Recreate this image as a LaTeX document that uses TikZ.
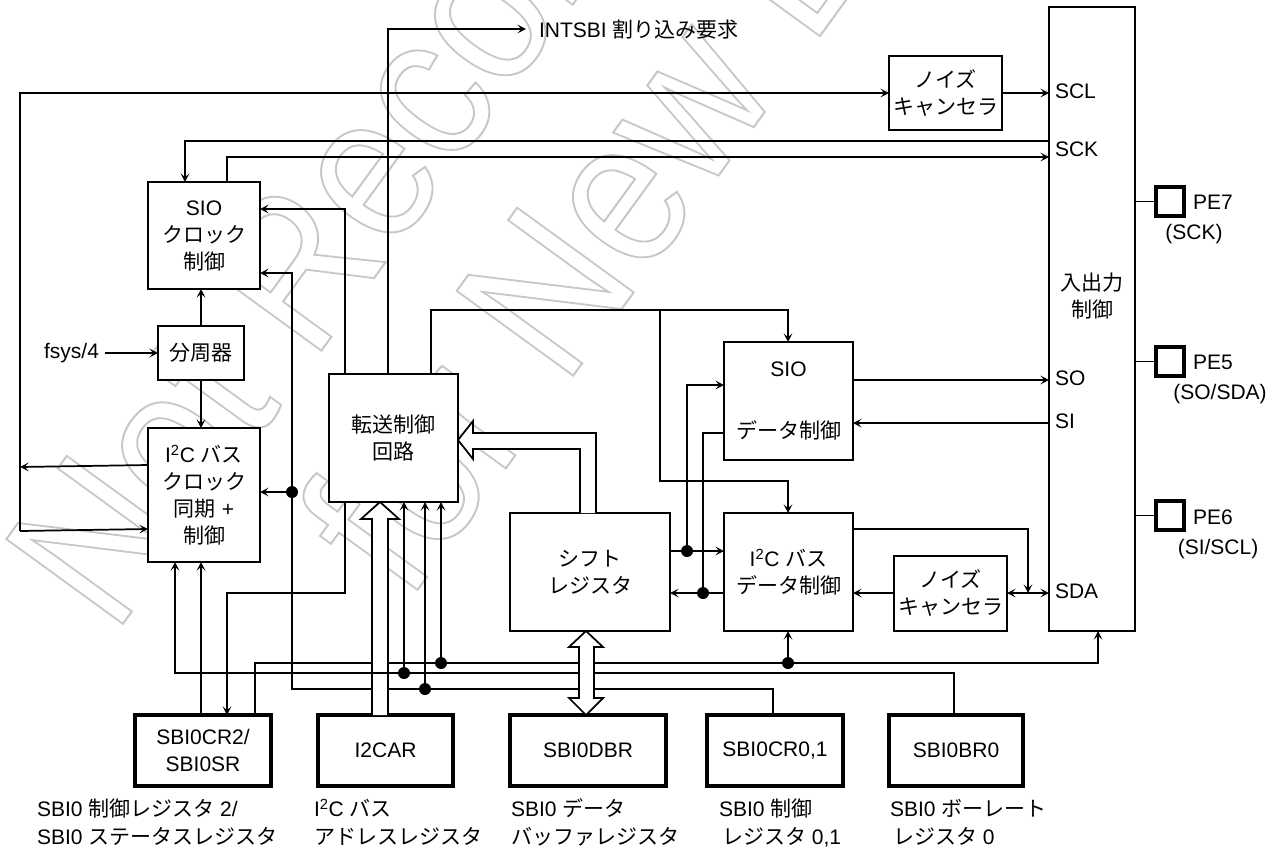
\documentclass[tikz,border=0pt]{standalone}
\usepackage{fontspec}
\setmainfont{Liberation Sans}
\newfontfamily\cjk{Noto Sans CJK JP}
\usetikzlibrary{arrows.meta,calc}
\newcommand\J[1]{{\cjk #1}}
\newcommand\IIC{I\textsuperscript{2}C}
\newcommand\bx[7]{\node[#2, minimum width={(#5-#3)*0.75pt}, minimum height={(#6-#4)*0.75pt}] (#1) at ({(#3+#5)/2},{(#4+#6)/2}) {#7};}
\newcommand\wmtext[1]{\special{pdf:code q 1 Tr 1.5 w 0.78 0.78 0.78 RG}#1\special{pdf:code Q}}
\tikzset{
  x=0.75pt,y=-0.75pt,
  every node/.style={font=\fontsize{15.75}{20.25}\selectfont,inner sep=0pt,outer sep=0pt},
  ln/.style={line width=1.3pt,line join=miter},
  arr/.style={ln,-{Stealth[inset=3pt,length=6.5pt,width=6.5pt,line width=0.9pt,open]}},
  arrs/.style={ln,{Stealth[inset=3pt,length=6.5pt,width=6.5pt,line width=0.9pt,open]}-{Stealth[inset=3pt,length=6.5pt,width=6.5pt,line width=0.9pt,open]}},
  blk/.style={draw,fill=white,line width=1.3pt,align=center},
  reg/.style={draw,fill=white,line width=2.8pt,align=center},
  pin/.style={draw,fill=white,line width=2.8pt},
  lab/.style={anchor=west},
  capt/.style={anchor=base west},
  dot/.style={circle,fill=black,minimum size=9pt},
  hol/.style={draw,fill=white,line width=1.3pt,line join=miter},
  wm/.style={font=\fontsize{157}{157}\selectfont,anchor=base west}
}
\begin{document}
\begin{tikzpicture}
\useasboundingbox (0,0) rectangle (1280,847);
\begin{scope}
\clip (0,0) rectangle (1280,847);
\node[wm,rotate=54,xscale=0.88] (wmone) at (114,636) {\wmtext{Not Recommended}};
\node[wm,rotate=54,xscale=0.88] (wmtwo) at (408,603) {\wmtext{for New Design}};
\end{scope}
% blocks
\bx{sioclk}{blk}{148}{182}{260}{289}{SIO\\\J{クロック}\\\J{制御}}
\bx{div}{blk}{158}{326}{244}{380}{\J{分周器}}
\bx{iicclk}{blk}{148}{428}{260}{562}{\IIC\ \J{バス}\\\J{クロック}\\\J{同期} +\\\J{制御}}
\bx{xfer}{blk}{329}{374}{458}{502}{\J{転送制御}\\\J{回路}}
\bx{shift}{blk}{510}{513}{670}{631}{\J{シフト}\\\J{レジスタ}}
\bx{siodat}{blk}{724}{342}{853}{460}{SIO\\[26pt]\J{データ制御}}
\bx{iicdat}{blk}{724}{513}{853}{631}{\IIC\ \J{バス}\\\J{データ制御}}
\bx{ncone}{blk}{889}{56}{1002}{130}{\J{ノイズ}\\\J{キャンセラ}}
\bx{nctwo}{blk}{894}{556}{1007}{631}{\J{ノイズ}\\\J{キャンセラ}}
\bx{io}{blk}{1049}{7}{1135}{631}{}
\node[align=center] (iotxt) at (1092,296) {\J{入出力}\\\J{制御}};
\bx{cr}{reg}{135}{715}{271}{786}{SBI0CR2/\\SBI0SR}
\bx{ar}{reg}{318}{715}{453}{786}{I2CAR}
\bx{dbr}{reg}{510}{715}{666}{786}{SBI0DBR}
\bx{crz}{reg}{707}{715}{843}{786}{SBI0CR0,1}
\bx{brz}{reg}{889}{715}{1023}{786}{SBI0BR0}
\bx{pseven}{pin}{1156}{187}{1184}{216}{}
\bx{pfive}{pin}{1156}{347}{1184}{376}{}
\bx{psix}{pin}{1156}{501}{1184}{530}{}
% junctions
\coordinate (dclk) at (292,492);
\coordinate (da) at (404,673);
\coordinate (db) at (425,689);
\coordinate (dc) at (441,663);
\coordinate (dd) at (788,663);
\coordinate (de) at (687,551);
\coordinate (df) at (703,593);
% top lines
\draw[arr] (388,0 |- xfer.north) -- (388,29) -- (526,29);
\node[anchor=west] (intl) at (539,30) {INTSBI \J{割り込み要求}};
\draw[arr] (20,531) -- (20,93) -- (ncone.west |- 0,93);
\draw[arr] (20,531) -- (iicclk.west |- 0,529);
\draw[arr] (iicclk.west |- 0,465) -- (20,467);
\draw[arr] (ncone.east |- 0,93) -- (io.west |- 0,93);
\draw[arr] (io.west |- 0,141) -- (185,141) -- (185,0 |- sioclk.north);
\draw[arr] (227,0 |- sioclk.north) -- (227,157) -- (io.west |- 0,157);
\draw[arr] (345,0 |- xfer.north) -- (345,209) -- (sioclk.east |- 0,209);
\draw[arr] (crz.north -| 773,0) -- (773,689) -- (292,689) -- (292,273) -- (sioclk.east |- 0,273);
\draw[arr] (div.north) -- (div.north |- sioclk.south);
\draw[arr] (div.south) -- (div.south |- iicclk.north);
\node[anchor=east] (fsys) at (99,353) {fsys/4};
\draw[arr] (fsys.east) ++(6,0) -- (div.west);
\draw[arr] (dclk) -- (iicclk.east |- dclk);
% transfer outputs
\draw[arr] (431,0 |- xfer.north) -- (431,310) -- (788,310) -- (788,0 |- siodat.north);
\draw[arr] (660,310) -- (660,481) -- (788,481) -- (788,0 |- iicdat.north);
% SIO / I2C data
\draw[arr] (siodat.east |- 0,380) -- (io.west |- 0,380);
\draw[arr] (io.west |- 0,423) -- (siodat.east |- 0,423);
\draw[arr] (de) -- (687,385) -- (siodat.west |- 0,385);
\draw[arr] (shift.east |- 0,551) -- (iicdat.west |- 0,551);
\draw[ln] (siodat.west |- 0,433) -- (703,433) -- (df);
\draw[arr] (iicdat.west |- 0,593) -- (shift.east |- 0,593);
\draw[arr] (nctwo.west |- 0,593) -- (iicdat.east |- 0,593);
\draw[arrs] (nctwo.east |- 0,593) -- (io.west |- 0,593);
\draw[arr] (iicdat.east |- 0,529) -- (1028,529) -- (1028,593);
% lower wiring
\draw[arr] (201,0 |- cr.north) -- (201,0 |- iicclk.south);
\draw[arr] (345,0 |- xfer.south) -- (345,593) -- (227,593) -- (227,0 |- cr.north);
\draw[arr] (255,0 |- cr.north) -- (255,663) -- (1098,663) -- (1098,0 |- io.south);
\draw[arr] (dd) -- (788,0 |- iicdat.south);
\draw[arr] (db) -- (425,0 |- xfer.south);
\draw[arr] (dc) -- (441,0 |- xfer.south);
% hollow I2CAR bus
\draw[hol] (372,0 |- ar.north) -- (372,519) -- (361,519) -- (380,0 |- xfer.south) -- (399,519) -- (388,519) -- (388,0 |- ar.north);
% bus that crosses it
\draw[arr] (954,0 |- brz.north) -- (954,673) -- (175,673) -- (175,0 |- iicclk.south);
\draw[arr] (da) -- (404,0 |- xfer.south);
% hollow shift -> transfer
\draw[hol] (580,0 |- shift.north) -- (580,449) -- (473,449) -- (473,459) -- (xfer.east |- 0,440) -- (473,421) -- (473,433) -- (596,433) -- (596,0 |- shift.north);
% hollow double arrow
\draw[hol] (586,0 |- shift.south) -- (603,647) -- (594,647) -- (594,698) -- (603,698) -- (586,0 |- dbr.north) -- (569,698) -- (579,698) -- (579,647) -- (569,647) -- cycle;
% dots
\node[dot] (ndclk) at (dclk) {};
\node[dot] (nda) at (da) {};
\node[dot] (ndb) at (db) {};
\node[dot] (ndc) at (dc) {};
\node[dot] (ndd) at (dd) {};
\node[dot] (nde) at (de) {};
\node[dot] (ndf) at (df) {};
% pins
\draw[ln] (io.east |- pseven.west) -- (pseven.west);
\draw[ln] (io.east |- pfive.west) -- (pfive.west);
\draw[ln] (io.east |- psix.west) -- (psix.west);
\node[lab] (scl) at (1055,91) {SCL};
\node[lab] (sck) at (1055,149) {SCK};
\node[lab] (so) at (1055,378) {SO};
\node[lab] (si) at (1055,421) {SI};
\node[lab] (sda) at (1055,591) {SDA};
\node[lab] (pe7) at (1193,202) {PE7};
\node (pe7b) at (1194,234) {(SCK)};
\node[lab] (pe5) at (1193,362) {PE5};
\node (pe5b) at (1220,394) {(SO/SDA)};
\node[lab] (pe6) at (1193,517) {PE6};
\node (pe6b) at (1218,549) {(SI/SCL)};
% captions
\node[capt] (c1a) at (37,816) {SBI0 \J{制御レジスタ} 2/};
\node[capt] (c1b) at (37,844) {SBI0 \J{ステータスレジスタ}};
\node[capt] (c2a) at (314,816) {\IIC\ \J{バス}};
\node[capt] (c2b) at (314,844) {\J{アドレスレジスタ}};
\node[capt] (c3a) at (511,816) {SBI0 \J{データ}};
\node[capt] (c3b) at (511,844) {\J{バッファレジスタ}};
\node[capt] (c4a) at (719,816) {SBI0 \J{制御}};
\node[capt] (c4b) at (722,844) {\J{レジスタ} 0,1};
\node[capt] (c5a) at (890,816) {SBI0 \J{ボーレート}};
\node[capt] (c5b) at (893,844) {\J{レジスタ} 0};
\end{tikzpicture}
\end{document}
